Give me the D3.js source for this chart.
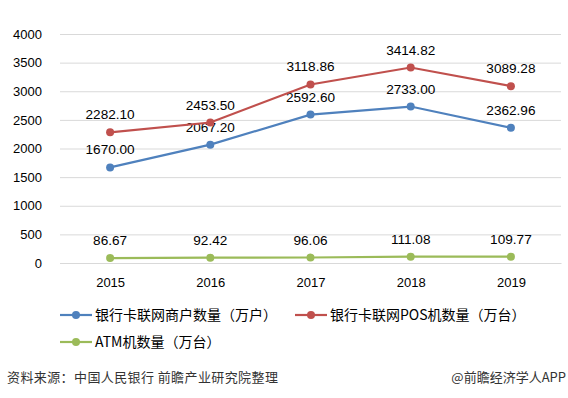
<!DOCTYPE html>
<html>
<head>
<meta charset="utf-8">
<script src="https://cdn.jsdelivr.net/npm/d3@7"></script>
<style>
  body { margin: 0; background: #fff; }
  svg { font-family: "Liberation Sans", "Noto Sans CJK SC", sans-serif; }
</style>
</head>
<body>
<div id="chart"></div>
<script>
// chart data
var years = ["2015", "2016", "2017", "2018", "2019"]
var merchants = [1670.00, 2067.20, 2592.60, 2733.00, 2362.96]
var posCount = [2282.10, 2453.50, 3118.86, 3414.82, 3089.28]
var atmCount = [86.67, 92.42, 96.06, 111.08, 109.77]
var yTicks = [0, 500, 1000, 1500, 2000, 2500, 3000, 3500, 4000]

var seriesNames = ["银行卡联网商户数量（万户）", "银行卡联网POS机数量（万台）", "ATM机数量（万台）"]
var seriesColors = ["#4f81bd", "#c0504d", "#9bbb59"]
var allSeries = [merchants, posCount, atmCount]

var width = 568, height = 398

var svg = d3.select("#chart")
    .append("svg")
    .attr("width", width)
    .attr("height", height)

// scales
var x = d3.scalePoint()
    .domain(years)
    .range([60, 561])
    .padding(0.5)

var y = d3.scaleLinear()
    .domain([0, 4000])
    .range([263, 34])

// gridlines + y labels
var yAxis = d3.axisLeft(y)
    .tickValues(yTicks)
    .tickSize(-(561 - 60))
    .tickPadding(18)
    .tickFormat(d3.format("d"))
var gy = svg.append("g")
    .attr("transform", "translate(60,0)")
    .call(yAxis)
gy.select(".domain").remove()
gy.selectAll(".tick line").attr("stroke", "#d9d9d9").attr("stroke-width", 1)
gy.selectAll(".tick text")
    .attr("fill", "#000")
    .style("font-size", "13px")

// x labels
var xAxis = d3.axisBottom(x).tickSize(0).tickPadding(15)
var gx = svg.append("g")
    .attr("transform", "translate(0,263)")
    .call(xAxis)
gx.select(".domain").attr("stroke", "#d9d9d9")
gx.selectAll(".tick text")
    .attr("fill", "#000")
    .style("font-size", "13px")

// lines, dots, labels
var line = d3.line()
    .x(function (d, i) { return x(years[i]) })
    .y(function (d) { return y(d) })

allSeries.forEach(function (vals, s) {
    svg.append("path")
        .datum(vals)
        .attr("d", line)
        .attr("fill", "none")
        .attr("stroke", seriesColors[s])
        .attr("stroke-width", 2.2)

    svg.selectAll(".dot" + s)
        .data(vals)
        .enter()
        .append("circle")
        .attr("cx", function (d, i) { return x(years[i]) })
        .attr("cy", function (d) { return y(d) })
        .attr("r", 4)
        .attr("fill", seriesColors[s])

    svg.selectAll(".lab" + s)
        .data(vals)
        .enter()
        .append("text")
        .attr("x", function (d, i) { return x(years[i]) })
        .attr("y", function (d) { return y(d) - 13 })
        .attr("text-anchor", "middle")
        .style("font-size", "13.6px")
        .attr("fill", "#000")
        .text(function (d) { return d.toFixed(2) })
})

// legend
var legendPos = [[60, 315], [295, 315], [60, 342]]
seriesNames.forEach(function (name, s) {
    var g = svg.append("g")
        .attr("transform", "translate(" + legendPos[s][0] + "," + legendPos[s][1] + ")")
    g.append("line")
        .attr("x1", 0).attr("x2", 32)
        .attr("y1", 0).attr("y2", 0)
        .attr("stroke", seriesColors[s])
        .attr("stroke-width", 2.2)
    g.append("circle")
        .attr("cx", 16).attr("cy", 0).attr("r", 4)
        .attr("fill", seriesColors[s])
    g.append("text")
        .attr("x", 35).attr("y", 5)
        .style("font-size", "14px")
        .style("font-family", "'Noto Sans CJK SC', sans-serif")
        .attr("fill", "#000")
        .text(name)
})

// footer
svg.append("text")
    .attr("x", 7).attr("y", 382)
    .style("font-size", "13px")
    .style("letter-spacing", "0.4px")
    .style("font-family", "'Noto Sans CJK SC', sans-serif")
    .attr("fill", "#333")
    .text("资料来源：中国人民银行 前瞻产业研究院整理")
svg.append("text")
    .attr("x", 566).attr("y", 382)
    .attr("text-anchor", "end")
    .style("font-size", "13px")
    .style("font-family", "'Noto Sans CJK SC', sans-serif")
    .attr("fill", "#333")
    .text("@前瞻经济学人APP")
</script>
</body>
</html>
